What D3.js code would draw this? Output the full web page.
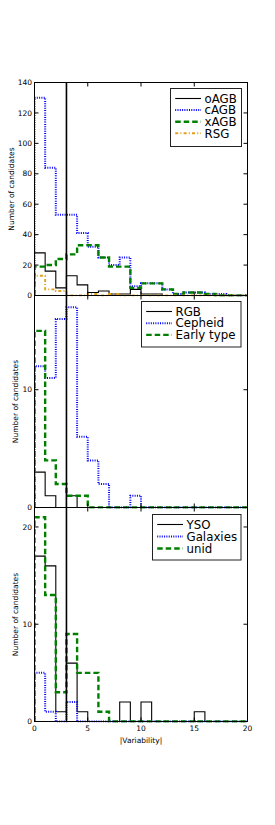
<!DOCTYPE html>
<html><head><meta charset="utf-8">
<script src="https://cdn.jsdelivr.net/npm/d3@7"></script>
<style>
body{margin:0;background:#fff}
svg{display:block}
text{font-family:"DejaVu Sans",sans-serif;fill:#000}
</style>
</head><body><div id="chart"></div>
<script>
// ---- data ----
const binEdges = d3.range(0, 21);          // |Variability| bins 0..20, width 1
const xTicks = [0, 5, 10, 15, 20];
const cutValue = 3;                          // vertical threshold line

const oAGB    = [28,16,5,13,7,2,3,1,1,4,1,1,0,0,0,0,0,0,0,0];
const cAGB    = [130,84,53,53,41,32,25,20,25,6,8,8,4,1,2,2,1,1,0,0];
const xAGB    = [19,20,24,27,33,33,25,19,19,5,8,8,4,1,2,2,1,0,0,0];
const RSG     = [13,4,3,0,0,1,0,1,0,0,0,0,0,0,0,0,0,0,0,0];

const RGB       = [3,1,0,1,0,0,0,0,0,0,0,0,0,0,0,0,0,0,0,0];
const Cepheid   = [12,11,16,17,6,4,2,0,0,1,0,0,0,0,0,0,0,0,0,0];
const EarlyType = [15,4,2,1,1,0,0,0,0,0,0,0,0,0,0,0,0,0,0,0];

const YSO      = [17,16,1,6,1,0,0,0,2,0,2,0,0,0,0,1,0,0,0,0];
const Galaxies = [5,1,0,2,0,0,0,0,0,0,0,0,0,0,0,0,0,0,0,0];
const unid     = [21,13,3,9,5,5,1,0,0,0,0,0,0,0,0,0,0,0,0,0];

const panel1Names = ["oAGB","cAGB","xAGB","RSG"];
const panel2Names = ["RGB","Cepheid","Early type"];
const panel3Names = ["YSO","Galaxies","unid"];
const panel1Ticks = [0,20,40,60,80,100,120,140];
const panel2Ticks = [0,10];
const panel3Ticks = [0,10,20];
const xLabel = "|Variability|";
const yLabel = "Number of candidates";

// ---- styles ----
const styleSolid  = {stroke:"#000", width:1.1, dash:null};
const styleDotted = {stroke:"#0000ff", width:2, dash:"1,1.3"};
const styleDashed = {stroke:"#008000", width:2.4, dash:"5.5,3"};
const styleDashDot= {stroke:"#e3a01e", width:1.9, dash:"3,2.2,1,2.2"};

const panels = [
  {series:[oAGB,cAGB,xAGB,RSG], names:panel1Names, styles:[styleSolid,styleDotted,styleDashed,styleDashDot],
   ymax:140, ticks:panel1Ticks, top:82.5, bottom:295.5, ylabX:11,
   legend:{x:170.5, y:88.5, w:71, h:58, row0:10, step:11.6}},
  {series:[RGB,Cepheid,EarlyType], names:panel2Names, styles:[styleSolid,styleDotted,styleDashed],
   ymax:18, ticks:panel2Ticks, top:295.5, bottom:507.5, ylabX:15,
   legend:{x:141.5, y:301.5, w:99.5, h:45.5, row0:10, step:11.7}},
  {series:[YSO,Galaxies,unid], names:panel3Names, styles:[styleSolid,styleDotted,styleDashed],
   ymax:22, ticks:panel3Ticks, top:507.5, bottom:721.5, ylabX:15,
   legend:{x:152.5, y:514.5, w:88.5, h:45.5, row0:10, step:12}}
];

const W = 275, H = 825;
const left = 34.5, right = 247.5;
const svg = d3.select("#chart").append("svg").attr("width", W).attr("height", H);

const x = d3.scaleLinear().domain([0, 20]).range([left, right]);

panels.forEach((p, pi) => {
  const y = d3.scaleLinear().domain([0, p.ymax]).range([p.bottom, p.top]);
  const g = svg.append("g");
  const clipId = "clip" + pi;
  g.append("clipPath").attr("id", clipId).append("rect")
    .attr("x", left).attr("y", p.top - 1).attr("width", right - left).attr("height", p.bottom - p.top + 2);

  const line = d3.line().x(d => x(d[0])).y(d => y(d[1])).curve(d3.curveStepAfter);
  const plot = g.append("g").attr("clip-path", `url(#${clipId})`);
  p.series.forEach((vals, si) => {
    const pts = [[binEdges[0], 0]];
    vals.forEach((v, i) => pts.push([binEdges[i], v]));
    pts.push([binEdges[binEdges.length - 1], vals[vals.length - 1]]);
    pts.push([binEdges[binEdges.length - 1], 0]);
    const st = p.styles[si];
    plot.append("path").attr("d", line(pts)).attr("fill", "none")
      .attr("stroke", st.stroke).attr("stroke-width", st.width)
      .attr("stroke-dasharray", st.dash).attr("stroke-linejoin", "miter");
  });

  // frame
  g.append("rect").attr("x", left).attr("y", p.top).attr("width", right - left).attr("height", p.bottom - p.top)
    .attr("fill", "none").attr("stroke", "#000").attr("stroke-width", 1);

  // ticks (inward on all sides)
  const tl = 4;
  xTicks.forEach(t => {
    g.append("line").attr("x1", x(t)).attr("x2", x(t)).attr("y1", p.bottom).attr("y2", p.bottom - tl).attr("stroke", "#000");
    g.append("line").attr("x1", x(t)).attr("x2", x(t)).attr("y1", p.top).attr("y2", p.top + tl).attr("stroke", "#000");
  });
  p.ticks.forEach(t => {
    g.append("line").attr("x1", left).attr("x2", left + tl).attr("y1", y(t)).attr("y2", y(t)).attr("stroke", "#000");
    g.append("line").attr("x1", right).attr("x2", right - tl).attr("y1", y(t)).attr("y2", y(t)).attr("stroke", "#000");
    g.append("text").attr("x", 32).attr("y", y(t)).attr("dy", "0.35em")
      .attr("text-anchor", "end").attr("font-size", 7.5).text(t);
  });

  // y label
  const cy = (p.top + p.bottom) / 2;
  g.append("text").attr("transform", `translate(${p.ylabX},${cy}) rotate(-90)`)
    .attr("text-anchor", "middle").attr("dy", "0.35em").attr("font-size", 7.5).text(yLabel);

  // legend
  const L = p.legend;
  const lg = g.append("g");
  lg.append("rect").attr("x", L.x).attr("y", L.y).attr("width", L.w).attr("height", L.h)
    .attr("fill", "#fff").attr("stroke", "#222").attr("stroke-width", 1);
  p.names.forEach((n, i) => {
    const ry = L.y + L.row0 + i * L.step;
    const st = p.styles[i];
    lg.append("line").attr("x1", L.x + 4.7).attr("x2", L.x + 30.5).attr("y1", ry).attr("y2", ry)
      .attr("stroke", st.stroke).attr("stroke-width", st.width).attr("stroke-dasharray", st.dash);
    lg.append("text").attr("x", L.x + 34).attr("y", ry).attr("dy", "0.36em")
      .attr("font-size", 11.8).text(n);
  });
});

// vertical threshold line across all panels
svg.append("line").attr("x1", x(cutValue)).attr("x2", x(cutValue))
  .attr("y1", panels[0].top).attr("y2", panels[2].bottom)
  .attr("stroke", "#000").attr("stroke-width", 1.6);

// x tick labels & label (bottom panel)
xTicks.forEach(t => {
  svg.append("text").attr("x", x(t)).attr("y", 730.5).attr("text-anchor", "middle")
    .attr("font-size", 7.5).text(t);
});
svg.append("text").attr("x", (left + right) / 2).attr("y", 742.5).attr("text-anchor", "middle")
  .attr("font-size", 7.5).text(xLabel);
</script>
</body></html>
